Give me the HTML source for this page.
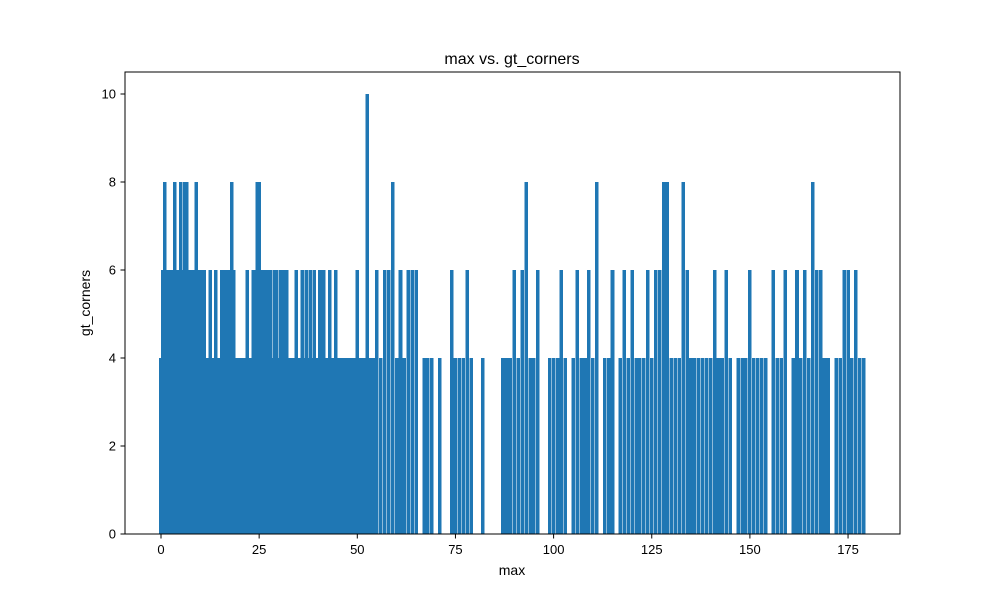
<!DOCTYPE html>
<html><head><meta charset="utf-8"><style>
body{margin:0;background:#fff;font-family:"Liberation Sans",sans-serif}
</style></head><body>
<svg id="chart" width="1000" height="600" xmlns="http://www.w3.org/2000/svg" font-family="Liberation Sans, sans-serif">
<rect width="1000" height="600" fill="#fff"/>
<g id="bars" shape-rendering="crispEdges"></g>
<rect x="125" y="72" width="775" height="462" fill="none" stroke="#000" stroke-width="1"/>
<g id="xt"></g>
<g id="yt"></g>
<text x="512" y="64" font-size="16" text-anchor="middle">max vs. gt_corners</text>
<text x="512" y="575" font-size="14" text-anchor="middle">max</text>
<text transform="translate(90,303) rotate(-90)" font-size="14" text-anchor="middle">gt_corners</text>
</svg>
<script>
const xs=[0,0.5,1,1.5,2,2.5,3,3.5,4,4.5,5,5.5,6,6.5,7,7.5,8,8.5,9,9.5,10,10.5,11,11.5,12,12.5,13,13.5,14,14.5,15,15.5,16,16.5,17,17.5,18,18.5,19,19.5,20,20.5,21,21.5,22,22.5,23,23.5,24,24.5,25,25.5,26,26.5,27,27.5,28,28.5,29,29.5,30,30.5,31,31.5,32,32.5,33,33.5,34,34.5,35,35.5,36,36.5,37,37.5,38,38.5,39,39.5,40,40.5,41,41.5,42,42.5,43,43.5,44,44.5,45,45.5,46,46.5,47,47.5,48,48.5,49,49.5,50,50.5,51,51.5,52,52.5,53,
54,55,56,57,58,59,60,61,62,63,64,65,67,68,69,71,74,75,76,77,78,79,82,87,88,89,90,91,92,93,94,95,96,99,100,101,102,103,105,106,107,108,109,110,111,113,114,115,117,118,119,120,121,122,123,124,125,126,127,128,129,130,131,132,133,134,135,136,137,138,139,140,141,142,143,144,145,147,148,149,150,151,152,153,154,156,157,158,159,161,162,163,164,165,166,167,168,169,170,172,173,174,175,176,177,178,179];
const hs=[4,6,8,6,6,6,6,8,6,6,8,6,8,8,6,6,6,6,8,6,6,6,6,4,4,6,4,4,6,4,4,6,6,6,6,6,8,6,4,4,4,4,4,4,6,4,4,6,6,8,8,6,6,4,6,6,6,4,6,6,4,6,6,6,6,4,4,4,4,6,4,4,6,4,6,4,6,4,6,4,4,6,4,6,4,4,6,4,4,6,4,4,4,4,4,4,4,4,4,4,6,4,4,4,4,10,4,
4,6,4,6,6,8,4,6,4,6,6,6,4,4,4,4,6,4,4,4,6,4,4,4,4,4,6,4,6,8,4,4,6,4,4,4,6,4,4,6,4,4,6,4,8,4,4,6,4,6,4,6,4,4,4,6,4,6,6,8,8,4,4,4,8,6,4,4,4,4,4,4,6,4,4,6,4,4,4,4,6,4,4,4,4,6,4,4,6,4,6,4,6,4,8,6,6,4,4,4,4,6,6,4,6,4,4];
const xTicks=[0,25,50,75,100,125,150,175];
const yTicks=[0,2,4,6,8,10];
const NS="http://www.w3.org/2000/svg";
const X=v=>161+v*3.926, Y=v=>534-v*44;
const bw=0.9*3.926;
const gb=document.getElementById('bars');
xs.forEach((x,i)=>{const r=document.createElementNS(NS,'rect');


r.setAttribute('x',X(x)-bw/2);r.setAttribute('y',Y(hs[i]));r.setAttribute('width',bw);r.setAttribute('height',Y(0)-Y(hs[i]));r.setAttribute('fill','#1f77b4');gb.appendChild(r);});
const gx=document.getElementById('xt');
xTicks.forEach(t=>{const l=document.createElementNS(NS,'line');


l.setAttribute('x1',X(t));l.setAttribute('x2',X(t));l.setAttribute('y1',534);l.setAttribute('y2',538.5);l.setAttribute('stroke','#000');gx.appendChild(l);
const tx=document.createElementNS(NS,'text');


tx.setAttribute('x',X(t));tx.setAttribute('y',554);tx.setAttribute('font-size','13');tx.setAttribute('text-anchor','middle');tx.textContent=t;gx.appendChild(tx);});
const gy=document.getElementById('yt');
yTicks.forEach(t=>{const l=document.createElementNS(NS,'line');


l.setAttribute('x1',120.5);l.setAttribute('x2',125);l.setAttribute('y1',Y(t));l.setAttribute('y2',Y(t));l.setAttribute('stroke','#000');gy.appendChild(l);
const tx=document.createElementNS(NS,'text');


tx.setAttribute('x',116);tx.setAttribute('y',Y(t)+4.5);tx.setAttribute('font-size','13');tx.setAttribute('text-anchor','end');tx.textContent=t;gy.appendChild(tx);});
</script>
</body></html>
